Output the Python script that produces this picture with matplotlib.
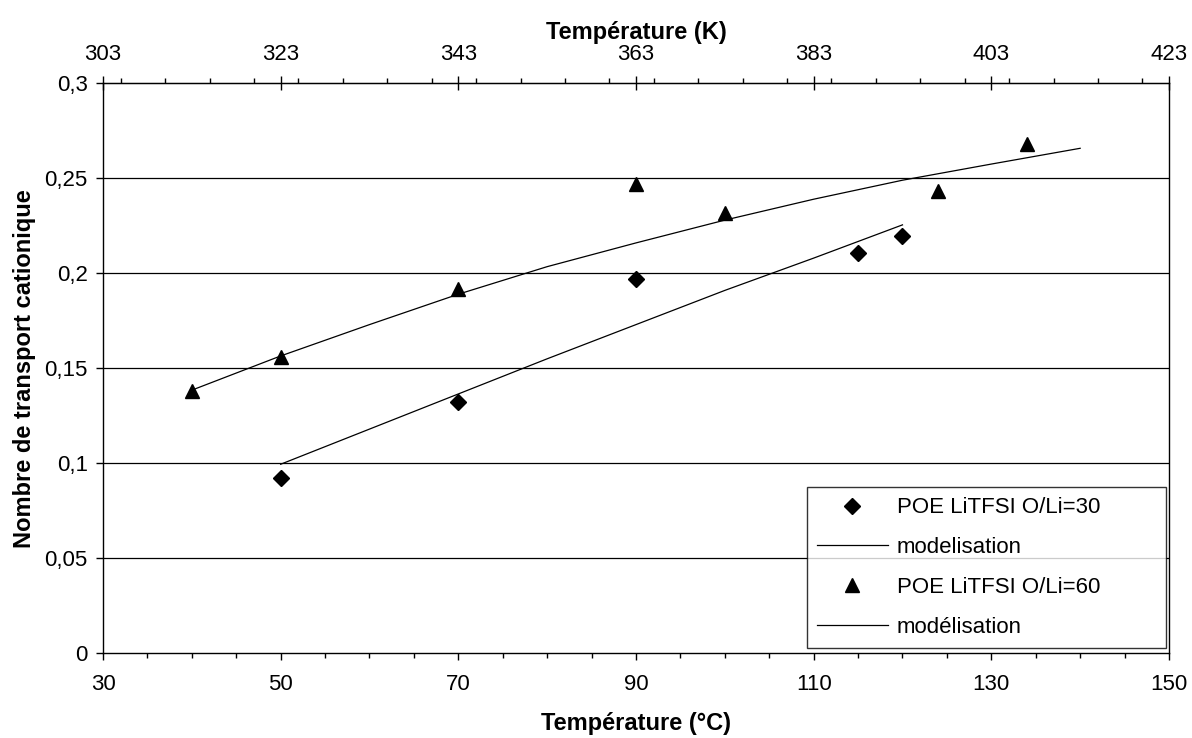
import matplotlib
matplotlib.use("Agg")
import matplotlib.pyplot as plt
from matplotlib.ticker import MultipleLocator, FuncFormatter
import numpy as np

plt.rcParams['font.family'] = ['Liberation Sans', 'DejaVu Sans']

# measured points (temperature in degC, transport number)
t30 = [50, 70, 90, 115, 120]
n30 = [0.092, 0.132, 0.197, 0.2105, 0.2195]
t60 = [40, 50, 70, 90, 100, 124, 134]
n60 = [0.138, 0.156, 0.192, 0.247, 0.232, 0.2435, 0.268]

# model curves
tm30 = [50, 60, 70, 80, 90, 100, 110, 120]
nm30 = [0.0995, 0.118, 0.1365, 0.155, 0.173, 0.191, 0.208, 0.2255]
tm60 = [40, 50, 60, 70, 80, 90, 100, 110, 120, 130, 140]
nm60 = [0.1385, 0.1565, 0.173, 0.189, 0.2035, 0.216, 0.228, 0.239, 0.249, 0.2575, 0.2658]

xticks_c = [30, 50, 70, 90, 110, 130, 150]
xticks_k = [303, 323, 343, 363, 383, 403, 423]
yticks = [0, 0.05, 0.1, 0.15, 0.2, 0.25, 0.3]

fig = plt.figure(figsize=(11.92, 7.38), dpi=100)
ax = fig.add_axes([0.0864, 0.1148, 0.8943, 0.7723])

for y in yticks[1:-1]:
    ax.axhline(y, color='black', lw=0.9, zorder=0)

ax.plot(t30, n30, 'D', color='black', ms=8, ls='none', label='POE LiTFSI O/Li=30')
ax.plot(tm30, nm30, '-', color='black', lw=0.9, label='modelisation')
ax.plot(t60, n60, '^', color='black', ms=10, ls='none', label='POE LiTFSI O/Li=60')
ax.plot(tm60, nm60, '-', color='black', lw=0.9, label='modélisation')

ax.set_xlim(30, 150)
ax.set_ylim(0, 0.3)
ax.set_xticks(xticks_c)
ax.xaxis.set_minor_locator(MultipleLocator(5))
ax.set_yticks(yticks)
ax.yaxis.set_major_formatter(FuncFormatter(lambda v, p: ('%g' % v).replace('.', ',')))

ax.tick_params(axis='x', which='major', direction='out', length=5, width=1, pad=10, labelsize=16)
ax.tick_params(axis='x', which='minor', direction='out', length=3.5, width=1)
ax.tick_params(axis='y', which='major', direction='out', length=5, width=1, pad=6, labelsize=16)
ax.tick_params(top=False, right=False, which='both')
for s in ax.spines.values():
    s.set_color('black')
    s.set_linewidth(1)

sec = ax.secondary_xaxis('top', functions=(lambda c: c + 273, lambda k: k - 273))
sec.set_xticks(xticks_k)
sec.xaxis.set_minor_locator(MultipleLocator(5))
sec.tick_params(which='major', direction='inout', length=10, width=1, pad=8, labelsize=16)
sec.tick_params(which='minor', direction='out', length=3.5, width=1)
sec.set_xlabel('Température (K)', fontsize=17, fontweight='bold', labelpad=4)

ax.set_xlabel('Température (°C)', fontsize=17, fontweight='bold')
ax.xaxis.set_label_coords(0.5, -0.103)
ax.set_ylabel('Nombre de transport cationique', fontsize=17, fontweight='bold')
ax.yaxis.set_label_coords(-0.063, 0.5)

leg = ax.legend(loc='lower left', bbox_to_anchor=(0.660, 0.0093, 0.337, 0.284), mode='expand',
                fontsize=16, numpoints=1, handlelength=3.2, handletextpad=0.4,
                labelspacing=0.85, borderpad=0.45, fancybox=False, borderaxespad=0)
leg.get_frame().set_edgecolor('black')
leg.get_frame().set_linewidth(1)

fig.savefig('out.png', dpi=100)
